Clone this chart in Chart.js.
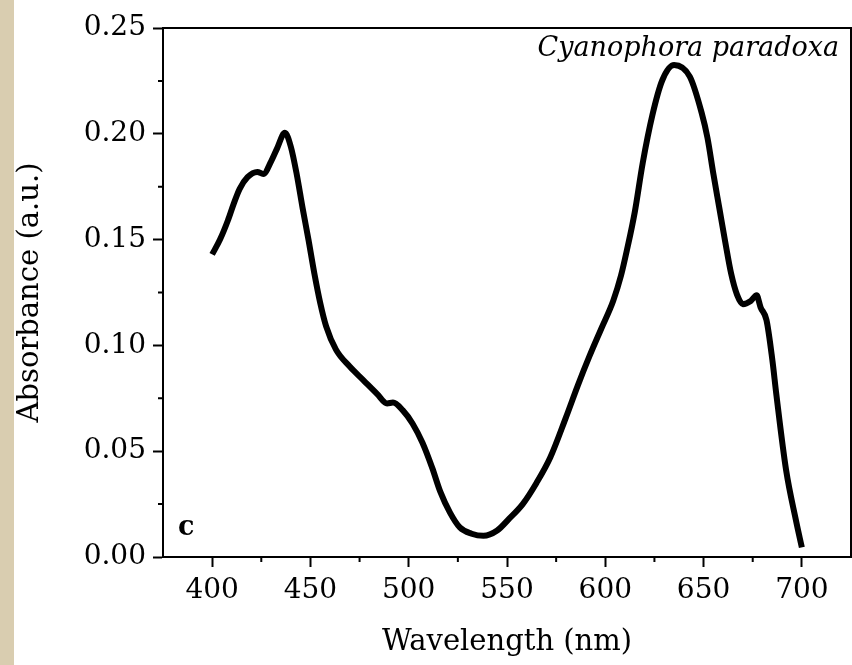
<!DOCTYPE html>
<html>
<head>
<meta charset="utf-8">
<script src="https://cdn.jsdelivr.net/npm/chart.js@4.4.1/dist/chart.umd.min.js"></script>
<style>
  html, body { margin: 0; padding: 0; background: #fff; }
  canvas { display: block; }
</style>
</head>
<body>
<canvas id="espectro" width="852" height="665"></canvas>
<script>
// comprimento de onda (nm) e absorbância
const comprimentos = [400, 404, 408, 411, 414, 418, 423, 426, 430, 433,
  437, 440, 443, 446, 449, 452, 455, 458, 463, 470,
  477, 484, 489, 492, 497, 502, 507, 512, 516, 521,
  526, 532, 538, 545, 551, 558, 565, 572, 580, 586,
  592, 598, 604, 608, 611, 615, 619, 624, 629, 635,
  643, 649, 652, 655, 658, 661, 664, 667, 670, 674,
  677, 679, 682, 685, 687, 692, 697, 700];
const absorbancia = [0.143, 0.150, 0.159, 0.167, 0.174, 0.1795, 0.182, 0.181, 0.187, 0.193,
  0.2005, 0.194, 0.181, 0.165, 0.150, 0.134, 0.120, 0.109, 0.098, 0.090,
  0.0835, 0.077, 0.0726, 0.073, 0.0693, 0.063, 0.054, 0.042, 0.031, 0.021,
  0.014, 0.011, 0.010, 0.0125, 0.018, 0.025, 0.035, 0.047, 0.066, 0.081,
  0.095, 0.108, 0.121, 0.133, 0.145, 0.163, 0.186, 0.209, 0.2253, 0.2325,
  0.227, 0.210, 0.198, 0.181, 0.165, 0.149, 0.134, 0.124, 0.1195, 0.121,
  0.1237, 0.118, 0.112, 0.093, 0.077, 0.041, 0.0173, 0.0045];

const ticksX = [400, 450, 500, 550, 600, 650, 700];
const ticksXMenores = [425, 475, 525, 575, 625, 675];
const ticksY = [0, 0.05, 0.10, 0.15, 0.20, 0.25];
const ticksYMenores = [0.025, 0.075, 0.125, 0.175, 0.225];

const fonteSerif = "'DejaVu Serif', serif";

// fundo, moldura, ticks menores e rótulos internos
const extras = {
  id: 'extras',
  beforeDraw(chart) {
    const ctx = chart.ctx;
    ctx.save();
    ctx.fillStyle = '#ffffff';
    ctx.fillRect(0, 0, chart.width, chart.height);
    ctx.fillStyle = '#d9cdb0';
    ctx.fillRect(0, 0, 14, chart.height);
    ctx.restore();
  },
  afterDraw(chart) {
    const ctx = chart.ctx;
    const a = chart.chartArea;
    const sx = chart.scales.x, sy = chart.scales.y;
    ctx.save();
    ctx.strokeStyle = '#000';
    ctx.lineWidth = 2;
    ctx.strokeRect(a.left, a.top, a.right - a.left, a.bottom - a.top);
    ctx.beginPath();
    ticksXMenores.forEach(v => {
      const px = sx.getPixelForValue(v);
      ctx.moveTo(px, a.bottom);
      ctx.lineTo(px, a.bottom + 5);
    });
    ticksYMenores.forEach(v => {
      const py = sy.getPixelForValue(v);
      ctx.moveTo(a.left, py);
      ctx.lineTo(a.left - 5, py);
    });
    ctx.stroke();

    ctx.fillStyle = '#000';
    ctx.textBaseline = 'alphabetic';
    ctx.font = "italic 27px " + fonteSerif;
    ctx.textAlign = 'right';
    ctx.fillText('Cyanophora paradoxa', a.right - 12, 56);
    ctx.font = "bold 27px " + fonteSerif;
    ctx.textAlign = 'left';
    ctx.fillText('c', a.left + 15, 535);
    ctx.restore();
  }
};

new Chart(document.getElementById('espectro'), {
  type: 'line',
  data: {
    datasets: [{
      data: comprimentos.map((x, i) => ({ x: x, y: absorbancia[i] })),
      borderColor: '#000',
      borderWidth: 6,
      pointRadius: 0,
      cubicInterpolationMode: 'monotone',
      fill: false
    }]
  },
  options: {
    responsive: false,
    animation: false,
    devicePixelRatio: 1,
    layout: { padding: { top: 28, right: 1, left: 0, bottom: 0 } },
    plugins: { legend: { display: false }, tooltip: { enabled: false } },
    scales: {
      x: {
        type: 'linear',
        min: 375,
        max: 725,
        afterFit(scale) { scale.height = 108; },
        afterBuildTicks(scale) { scale.ticks = ticksX.map(v => ({ value: v })); },
        grid: { drawOnChartArea: false, tickLength: 10, tickWidth: 2, tickColor: '#000' },
        border: { color: '#000', width: 2 },
        ticks: {
          color: '#000',
          padding: 7,
          maxRotation: 0,
          font: { family: fonteSerif, size: 28 },
          callback: v => String(v)
        },
        title: {
          display: true,
          text: 'Wavelength (nm)',
          color: '#000',
          padding: { top: 0, bottom: 5 },
          font: { family: fonteSerif, size: 29 }
        }
      },
      y: {
        min: 0,
        max: 0.25,
        afterFit(scale) { scale.width = 163; },
        afterBuildTicks(scale) { scale.ticks = ticksY.map(v => ({ value: v })); },
        grid: { drawOnChartArea: false, tickLength: 10, tickWidth: 2, tickColor: '#000' },
        border: { color: '#000', width: 2 },
        ticks: {
          color: '#000',
          padding: 7,
          font: { family: fonteSerif, size: 28 },
          callback: v => Number(v).toFixed(2)
        },
        title: {
          display: true,
          text: 'Absorbance (a.u.)',
          color: '#000',
          padding: { top: 13, bottom: 0 },
          font: { family: fonteSerif, size: 29 }
        }
      }
    }
  },
  plugins: [extras]
});
</script>
</body>
</html>
